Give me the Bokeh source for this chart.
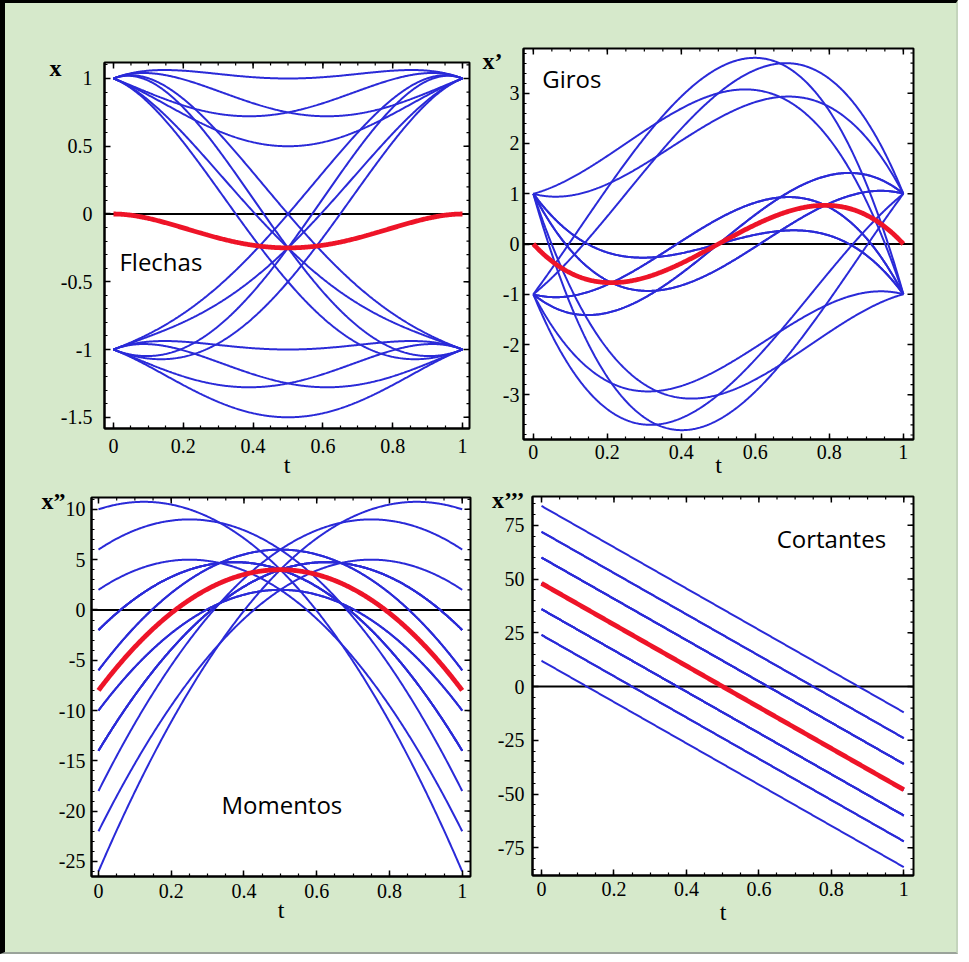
import numpy as np
from bokeh.plotting import figure
from bokeh.models import Range1d, FixedTicker, Span, Label, LinearAxis
from bokeh.layouts import row, column
from bokeh.embed import file_html
from bokeh.resources import INLINE

# ---------------- data ----------------
# Red curve: clamped-clamped beam deflection, polynomial coefficients for t^0..t^4
# (x(0)=x(1)=0, x'(0)=x'(1)=0, minimum -0.25 at t=0.5, x''(0)=-8, x'''(0)=48)
red_coeffs = [0.0, 0.0, -4.0, 8.0, -4.0]

# Blue family: same load, different end values / end slopes (read from Flechas & Giros)
x_at_0     = [1, 1, 1, 1, 1, 1, 1, 1, -1, -1, -1, -1, -1, -1, -1, -1]
x_at_1     = [1, 1, 1, 1, -1, -1, -1, -1, 1, 1, 1, 1, -1, -1, -1, -1]
slope_at_0 = [1, 1, -1, -1, 1, 1, -1, -1, 1, 1, -1, -1, 1, 1, -1, -1]
slope_at_1 = [1, -1, 1, -1, 1, -1, 1, -1, 1, -1, 1, -1, 1, -1, 1, -1]

x_ticks = [0, 0.2, 0.4, 0.6, 0.8, 1]
x_tick_labels = ["0", "0.2", "0.4", "0.6", "0.8", "1"]
y_ticks_flechas = [1, 0.5, 0, -0.5, -1, -1.5]
y_labels_flechas = ["1", "0.5", "0", "-0.5", "-1", "-1.5"]
y_ticks_giros = [3, 2, 1, 0, -1, -2, -3]
y_labels_giros = ["3", "2", "1", "0", "-1", "-2", "-3"]
y_ticks_momentos = [10, 5, 0, -5, -10, -15, -20, -25]
y_labels_momentos = ["10", "5", "0", "-5", "-10", "-15", "-20", "-25"]
y_ticks_cortantes = [75, 50, 25, 0, -25, -50, -75]
y_labels_cortantes = ["75", "50", "25", "0", "-25", "-50", "-75"]

# ---------------- curves ----------------
P = np.polynomial.polynomial
T = np.linspace(0.0, 1.0, 401)
H00 = np.array([1, 0, -3, 2, 0.0])
H01 = np.array([0, 0, 3, -2, 0.0])
H10 = np.array([0, 1, -2, 1, 0.0])
H11 = np.array([0, 0, -1, 1, 0.0])
red_c = np.array(red_coeffs)
blue_cs = [red_c + a * H00 + b * H01 + c * H10 + d * H11
           for a, b, c, d in zip(x_at_0, x_at_1, slope_at_0, slope_at_1)]


def ev(coeffs, order):
    cc = P.polyder(coeffs, order) if order else coeffs
    return P.polyval(T, cc)


GREEN = "#d6e9cb"
BLUE = "#2a2ad8"
RED = "#ee1428"
SERIF = "Liberation Serif"
SANS = "Open Sans"


def style_axis(ax, ticks, minor, labels, standoff):
    ax.ticker = FixedTicker(ticks=ticks, minor_ticks=minor)
    ax.axis_line_color = "black"
    ax.axis_line_width = 2
    ax.major_tick_in = 6
    ax.major_tick_out = 0
    ax.minor_tick_in = 3
    ax.minor_tick_out = 0
    ax.major_tick_line_color = "black"
    ax.major_tick_line_width = 1.5
    ax.minor_tick_line_color = "black"
    ax.minor_tick_line_width = 1.2
    ax.major_label_overrides = {float(k): v for k, v in zip(ticks, labels)}
    ax.major_label_text_font = SERIF
    ax.major_label_text_font_size = "20px"
    ax.major_label_text_color = "black"
    ax.major_label_standoff = standoff


def panel(order, w, h, borders, xr, yr, yticks, yminor, ylabels, xs, ys, ts,
          ylab, ylab_y, ylab_standoff, name, name_pos):
    L, R, Tp, B = borders
    p = figure(width=w, height=h, output_backend="svg", toolbar_location=None,
               x_range=Range1d(*xr), y_range=Range1d(*yr),
               min_border_left=L, min_border_right=R,
               min_border_top=Tp, min_border_bottom=B)
    p.background_fill_color = "white"
    p.border_fill_color = GREEN
    p.outline_line_color = "black"
    p.outline_line_width = 2
    p.grid.visible = False
    xminor = [round(v, 3) for v in np.arange(0, 1.0001, 0.05)]
    style_axis(p.xaxis[0], x_ticks, xminor, x_tick_labels, xs)
    style_axis(p.yaxis[0], yticks, yminor, ylabels, ys)
    xa = p.xaxis[0]
    xa.axis_label = "t"
    xa.axis_label_text_font = SERIF
    xa.axis_label_text_font_style = "normal"
    xa.axis_label_text_font_size = "24px"
    xa.axis_label_text_color = "black"
    xa.axis_label_standoff = ts

    # y-variable name written at the top of the left axis (Mathematica AxesLabel)
    name_axis = LinearAxis(ticker=FixedTicker(ticks=[ylab_y]),
                           major_label_overrides={float(ylab_y): ylab},
                           axis_line_color=None, major_tick_line_color=None,
                           minor_tick_line_color=None,
                           major_label_standoff=ylab_standoff,
                           major_label_text_font=SERIF,
                           major_label_text_font_size="24px",
                           major_label_text_font_style="bold",
                           major_label_text_color="black")
    p.add_layout(name_axis, "left")

    # tick marks on the top and right frame edges (inward)
    p.scatter(x_ticks, [yr[1]] * len(x_ticks), marker="dash", angle=np.pi / 2,
              size=12, line_color="black", line_width=1.5)
    p.scatter(xminor, [yr[1]] * len(xminor), marker="dash", angle=np.pi / 2,
              size=6, line_color="black", line_width=1.2)
    p.scatter([xr[1]] * len(yticks), yticks, marker="dash",
              size=12, line_color="black", line_width=1.5)
    p.scatter([xr[1]] * len(yminor), yminor, marker="dash",
              size=6, line_color="black", line_width=1.2)

    p.add_layout(Span(location=0, dimension="width", line_color="black",
                      line_width=2, level="underlay"))
    for bc in blue_cs:
        p.line(T, ev(bc, order), line_color=BLUE, line_width=2.0)
    p.line(T, ev(red_c, order), line_color=RED, line_width=4.8)

    p.add_layout(Label(x=name_pos[0], y=name_pos[1], text=name, text_font=SANS,
                       text_font_size="24px", text_align="left",
                       text_color="black", text_baseline="middle"))
    return p


p1 = panel(0, 474, 477, (99, 10, 59, 52), (-0.0258, 1.0201), (-1.583, 1.118),
           y_ticks_flechas, [round(v, 3) for v in np.arange(-1.5, 1.1001, 0.1)],
           y_labels_flechas, 10, 12, -4,
           "x", 1.074, -10, "Flechas", (0.017, -0.35))
p2 = panel(1, 477, 477, (38, 43, 45, 39), (-0.0266, 1.0274), (-3.89, 3.89),
           y_ticks_giros, [round(v, 3) for v in np.arange(-3.8, 3.8001, 0.2)],
           y_labels_giros, 5, 4, -10,
           "x\u2019", 3.65, -9, "Giros", (0.024, 3.30))
p3 = panel(2, 474, 472, (86, 9, 17, 76), (-0.0192, 1.0228), (-26.5, 11.18),
           y_ticks_momentos, list(range(-26, 12)),
           y_labels_momentos, 7, 6, -4,
           "x\u201d", 10.85, -16, "Momentos", (0.338, -19.33))
p4 = panel(3, 477, 472, (53, 43, 16, 77), (-0.0249, 1.0268), (-87.9, 88.4),
           y_ticks_cortantes, list(range(-85, 90, 5)),
           y_labels_cortantes, 6, 8, 0,
           "x\u2019\u2019\u2019", 87.0, -36, "Cortantes", (0.649, 68.8))

# each figure wrapped separately so the frames are not forced into alignment
layout = column(row(column(p1), column(p2)), row(column(p3), column(p4)),
                styles={"background-color": GREEN,
                        "border-left": "5px solid black",
                        "border-top": "3px solid black",
                        "border-bottom": "2px solid #9aa39a",
                        "border-right": "2px solid #c4d4bc"})

open("out.html", "w").write(file_html(layout, INLINE))
